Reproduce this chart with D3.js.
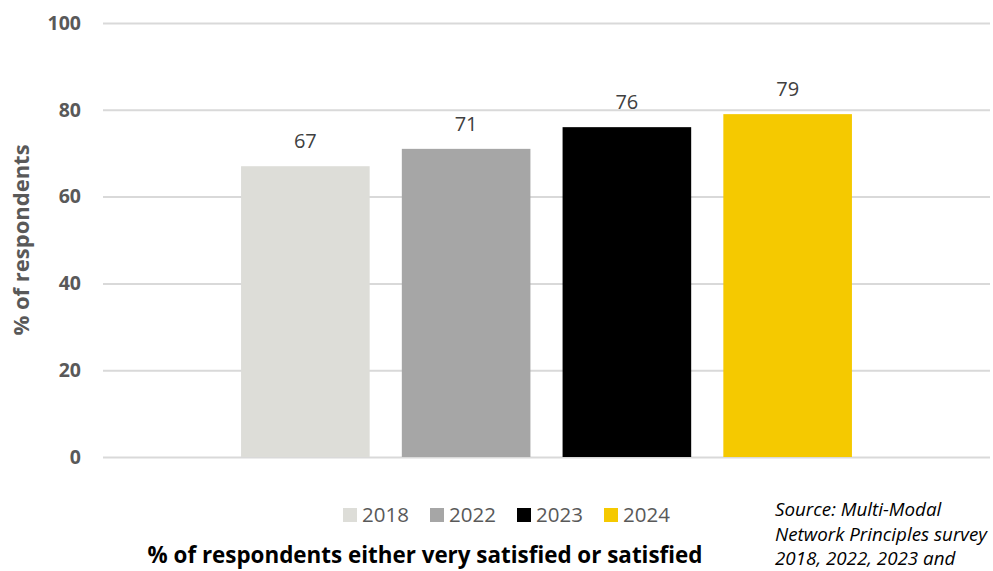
<!DOCTYPE html>
<html>
<head>
<meta charset="utf-8">
<script src="https://cdn.jsdelivr.net/npm/d3@7"></script>
<style>
  body { margin: 0; background: #fff; }
  svg { display: block; font-family: "Open Sans", "Liberation Sans", sans-serif; }
</style>
</head>
<body>
<svg id="chart" width="993" height="571"></svg>
<script>
const years = ['2018', '2022', '2023', '2024'];
const values = [67, 71, 76, 79];
const colors = ['#DDDDD8', '#A6A6A6', '#000000', '#F5C900'];
const yTicks = [0, 20, 40, 60, 80, 100];
const category = ['% of respondents either very satisfied or satisfied'];
// last line of the note ("2024") falls below the frame in the original
const sourceLines = ['Source: Multi-Modal', 'Network Principles survey', '2018, 2022, 2023 and'];

function drawChart() {
  let svg = d3.select('#chart');
  let left = 103, right = 990, top = 23, bottom = 457;

  let y = d3.scaleLinear().domain([0, 100]).range([bottom, top]);
  let x0 = d3.scaleBand().domain(category).range([left, right]).paddingInner(0).paddingOuter(0.226);
  let x1 = d3.scaleBand().domain(years).range([0, x0.bandwidth()]).paddingInner(0.2);
  let color = d3.scaleOrdinal().domain(years).range(colors);

  // gridlines + tick labels
  let axis = d3.axisLeft(y).tickValues(yTicks).tickSize(-(right - left)).tickPadding(22);
  let g = svg.append('g').attr('transform', `translate(${left},0)`).call(axis);
  g.select('.domain').remove();
  g.selectAll('.tick line').attr('stroke', '#D9D9D9').attr('stroke-width', 2);
  g.selectAll('.tick text')
    .attr('fill', '#595959')
    .attr('font-size', 19.5)
    .attr('font-weight', 'bold')
    .attr('font-family', '"Open Sans", sans-serif');

  // bars
  let group = svg.append('g').attr('transform', `translate(${x0(category[0])},0)`);
  group.selectAll('rect')
    .data(years)
    .join('rect')
    .attr('x', d => x1(d))
    .attr('width', x1.bandwidth())
    .attr('y', (d, i) => y(values[i]))
    .attr('height', (d, i) => y(0) - y(values[i]))
    .attr('fill', d => color(d));

  group.selectAll('text.val')
    .data(years)
    .join('text')
    .attr('class', 'val')
    .attr('x', d => x1(d) + x1.bandwidth() / 2)
    .attr('y', (d, i) => y(values[i]) - 18)
    .attr('text-anchor', 'middle')
    .attr('font-size', 20)
    .attr('fill', '#404040')
    .text((d, i) => values[i]);

  // y title
  svg.append('text')
    .attr('transform', `translate(29,240) rotate(-90)`)
    .attr('text-anchor', 'middle')
    .attr('font-size', 22)
    .attr('font-weight', 'bold')
    .attr('fill', '#595959')
    .text('% of respondents');

  // legend
  let legendX = [343, 430, 517, 604];
  let legend = svg.append('g');
  years.forEach((yr, i) => {
    legend.append('rect')
      .attr('x', legendX[i]).attr('y', 508)
      .attr('width', 14).attr('height', 14)
      .attr('fill', color(yr));
    legend.append('text')
      .attr('x', legendX[i] + 19).attr('y', 522)
      .attr('font-size', 20.5)
      .attr('fill', '#595959')
      .text(yr);
  });

  // x title
  svg.append('text')
    .attr('x', 425).attr('y', 563)
    .attr('text-anchor', 'middle')
    .attr('font-size', 22.4)
    .attr('font-weight', 'bold')
    .attr('fill', '#000')
    .text(category[0]);

  // source note
  svg.append('g').selectAll('text')
    .data(sourceLines)
    .join('text')
    .attr('x', 775)
    .attr('y', (d, i) => 516 + i * 24.5)
    .attr('font-size', 18.8)
    .attr('font-style', 'italic')
    .attr('fill', '#000')
    .text(d => d);
}

window.onload = drawChart;
</script>
</body>
</html>
